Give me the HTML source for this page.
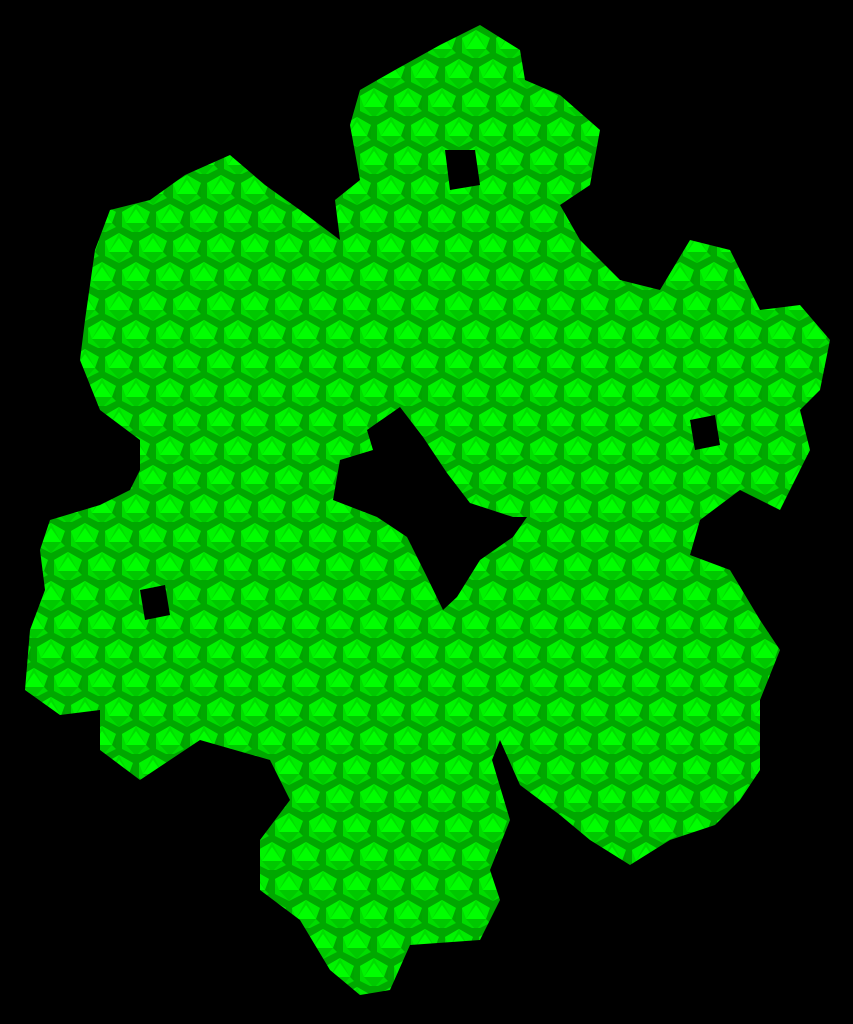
<!DOCTYPE html>
<html>
<head>
<meta charset="utf-8">
<style>
html,body{margin:0;padding:0;background:#000;}
svg{display:block;}
</style>
</head>
<body>
<svg width="853" height="1024" viewBox="0 0 853 1024" xmlns="http://www.w3.org/2000/svg">
<defs>
<pattern id="ico" width="34" height="58" patternUnits="userSpaceOnUse">
<rect width="34" height="58" fill="#00a800"/>
<g id="one">
<polygon points="17,1 31,9 31,24 17,31 3,24 3,9" fill="#00dc00"/>
<polygon points="17,6 27,20 7,20" fill="#00ff00"/>
<polygon points="17,1 27,20 31,9" fill="#00ec00"/>
<polygon points="17,1 7,20 3,9" fill="#00f400"/>
<polygon points="7,20 27,20 17,31" fill="#00c800"/>
<polygon points="27,20 31,24 31,9" fill="#00a400"/>
</g>
<use href="#one" x="-17" y="29"/>
<use href="#one" x="17" y="29"/>
</pattern>
<clipPath id="shape">
<path clip-rule="evenodd" d="
M480,25 L520,50 L525,80 L560,95 L600,130 L590,185 L560,205 L580,240 L620,280 L660,290 L690,240 L730,250 L760,310 L800,305 L830,340 L820,390 L800,410 L810,450 L780,510 L740,490 L700,520 L690,555 L730,570 L760,620 L780,650 L760,700 L760,770 L740,800 L715,825 L670,840 L630,865 L590,840 L560,815 L520,785 L500,740 L492,760 L510,820 L490,870 L500,900 L480,940 L410,945 L390,990 L360,995 L330,970 L300,920 L260,890 L260,840 L290,800 L270,760 L200,740 L170,760 L140,780 L100,750 L100,710 L60,715 L25,690 L30,630 L45,590 L40,550 L50,520 L100,505 L130,490 L140,470 L140,440 L100,410 L80,360 L85,320 L95,250 L110,210 L150,200 L185,175 L230,155 L265,185 L300,210 L340,240 L335,200 L360,180 L350,125 L360,90 L395,70 L440,45 Z
M367,430 L400,407 L423,437 L447,473 L470,503 L513,517 L527,517 L513,537 L480,560 L457,597 L443,610 L427,577 L407,537 L377,517 L333,500 L340,460 L373,450 Z
M445,150 L475,150 L480,185 L450,190 Z
M140,590 L165,585 L170,615 L145,620 Z
M690,420 L715,415 L720,445 L695,450 Z
" fill-rule="evenodd"/>
</clipPath>
</defs>
<rect width="853" height="1024" fill="#000"/>
<rect width="853" height="1024" fill="url(#ico)" clip-path="url(#shape)"/>
</svg>
</body>
</html>
